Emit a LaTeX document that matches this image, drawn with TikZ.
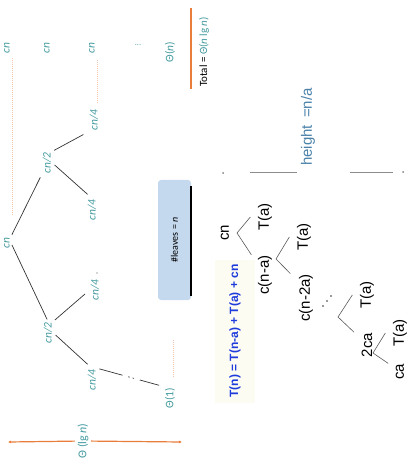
\documentclass[tikz,border=0pt]{standalone}
\usepackage{fontspec}
\setmainfont{Liberation Sans}
\newfontfamily\calfont{Carlito}
\usetikzlibrary{arrows.meta}
\definecolor{tealtx}{RGB}{70,155,160}
\definecolor{orangeln}{RGB}{232,125,60}
\definecolor{dotor}{RGB}{245,200,175}
\definecolor{boxblue}{RGB}{197,217,238}
\definecolor{eqblue}{RGB}{30,60,220}
\definecolor{hblue}{RGB}{75,130,170}
\definecolor{eqbg}{RGB}{252,252,243}
\begin{document}
\begin{tikzpicture}[x=1pt,y=-1pt,
  lab/.style={rotate=90,text=tealtx,font=\calfont\itshape\fontsize{11.5}{12}\selectfont,inner sep=1pt},
  labu/.style={rotate=90,text=tealtx,font=\calfont\fontsize{11.5}{12}\selectfont,inner sep=1pt},
  rt/.style={rotate=90,font=\fontsize{15}{16}\selectfont,inner sep=0.5pt},
  tline/.style={draw=black!80,line width=0.7pt},
  arm/.style={draw=black!65,line width=0.6pt},
  dotln/.style={draw=dotor,line width=1pt,dash pattern=on 1pt off 1pt},
  oline/.style={draw=orangeln,line width=1.2pt},
  hline/.style={draw=black!45,line width=0.9pt}]
\useasboundingbox (0,0) rectangle (406,462);

% ---- level sums column
\node[lab] (s1) at (7,48) {cn};
\node[lab] (s2) at (47,48) {cn};
\node[lab] (s3) at (92,48) {cn};
\node[text=tealtx,font=\calfont\fontsize{8}{8}\selectfont,inner sep=0pt] (s4) at (138,45) {...};
\node[labu] (s5) at (170,52) {Θ(\textit{n})};
\node[rotate=90,font=\calfont\fontsize{11}{12}\selectfont,inner sep=1pt] (tot) at (204,52)
  {Total = \textcolor{tealtx}{Θ(\textit{n} lg \textit{n})}};
\coordinate (ta) at (191,8);
\coordinate (tb) at (191,89);
\draw[oline] (ta) -- (tb);

% dotted guides
\coordinate (d1a) at (12,58);  \coordinate (d1b) at (12,215);
\coordinate (d2a) at (97,60);  \coordinate (d2b) at (97,103);
\coordinate (d3a) at (173,340); \coordinate (d3b) at (173,378);
\draw[dotln] (d1a) -- (d1b);
\draw[dotln] (d2a) -- (d2b);
\draw[dotln] (d3a) -- (d3b);

% ---- recursion tree (left)
\node[lab] (root) at (7,243) {cn};
\node[lab] (c2a) at (47,163) {cn/2};
\node[lab] (c2b) at (48,333) {cn/2};
\node[lab] (c4a) at (94,120) {cn/4};
\node[lab] (c4b) at (92,210) {cn/4};
\node[lab] (c4c) at (95,290) {cn/4};
\node[lab] (c4d) at (92,380) {cn/4};
\node[labu] (t1) at (170,398) {Θ(1)};

\draw[tline,shorten <=2pt,shorten >=3pt] (root.south east) -- (c2a.north west);
\draw[tline,shorten <=2pt,shorten >=2pt] (root.south) -- (c2b.east);
\draw[tline,shorten <=2pt,shorten >=6pt] (c2a.south east) -- (c4a.north west);
\draw[tline,shorten <=3pt,shorten >=6pt] (c2a.south) -- (c4b.east);
\draw[tline,shorten <=2pt,shorten >=6pt] (c2b.south east) -- (c4c.north);
\draw[tline,shorten <=3pt,shorten >=6pt] (c2b.south) -- (c4d.east);
\draw[tline,dash pattern=on 24pt off 6pt on 1.5pt off 3pt on 1.5pt off 6pt on 20pt,shorten <=2pt,shorten >=2pt]
  (c4d.south east) -- (t1.north east);
\fill[black!70] (97,273) circle (0.7);

% #leaves box
\node[rotate=90,fill=boxblue,rounded corners=3pt,minimum width=120pt,minimum height=33pt,
  font=\calfont\fontsize{10}{11}\selectfont,inner sep=1pt] (leaves) at (174.5,240) {\#leaves = \textit{n}};
\coordinate (sh1) at (191,186);
\coordinate (sh2) at (191,296);
\draw[black,line width=1.3pt] (sh1) -- (sh2);

% Theta(lg n) height arrow
\node[rotate=90,fill=white,text=tealtx,font=\calfont\fontsize{12}{13}\selectfont,inner sep=2.5pt] (lg) at (83,441) {Θ (lg \textit{n})};
\coordinate (la) at (8,442);
\coordinate (lb) at (182,442);
\draw[oline,{Latex[length=3pt,width=3pt]}-] (la) -- (lg);
\draw[oline,-{Latex[length=3pt,width=3pt]}] (lg) -- (lb);

% ---- right tree T(n) = T(n-a) + T(a) + cn
\node[rotate=90,text=eqblue,fill=eqbg,font=\bfseries\fontsize{12}{13}\selectfont,minimum width=143pt,minimum height=40pt,inner sep=1pt] (eq) at (235,331) {T(n) = T(n-a) + T(a) + cn};

\node[rt] (rcn) at (225,233) {cn};
\node[rt] (ta1) at (265,217) {T(a)};
\node[rt] (cna) at (265,275) {c(n-a)};
\node[rt] (ta2) at (304,237) {T(a)};
\node[rt] (cn2a) at (306,298) {c(n-2a)};
\node[rt] (ta3) at (367,295) {T(a)};
\node[rt] (c2ca) at (367,345) {2ca};
\node[rt] (ta4) at (400,333) {T(a)};
\node[rt] (cca) at (400,372) {ca};

\coordinate (v1) at (237,233);
\coordinate (v2) at (276,259);
\coordinate (v3) at (338,317);
\coordinate (v4) at (373,353);
\draw[arm] ([xshift=-7pt]ta1.north) -- (v1) -- ([xshift=-6pt]cna.north east);
\draw[arm] ([xshift=-7pt]ta2.north) -- (v2) -- ([xshift=-8pt]cn2a.north east);
\draw[arm] ([xshift=-7pt]ta3.north) -- (v3) -- ([xshift=-7pt]c2ca.north east);
\draw[arm] ([xshift=-7pt]ta4.north) -- (v4) -- ([xshift=-7pt]cca.north east);
\foreach \p in {(323,306),(327,301),(331,296)} \fill[black!80] \p circle (0.8);

% height = n/a
\node[rotate=90,text=hblue,font=\fontsize{15}{16}\selectfont,inner sep=1pt] (ht) at (308,127) {height \hspace{3pt}=n/a};
\coordinate (h1) at (223,173);
\coordinate (h1b) at (250,172);
\coordinate (h2) at (297,172);
\coordinate (h3) at (350,172);
\coordinate (h3b) at (393,172);
\coordinate (h4) at (403,172);
\draw[hline] (h1b) -- (h2);
\draw[hline] (h3) -- (h3b);
\fill[black!50] (h1) circle (1);
\fill[black!50] (h4) circle (1);
\end{tikzpicture}
\end{document}
